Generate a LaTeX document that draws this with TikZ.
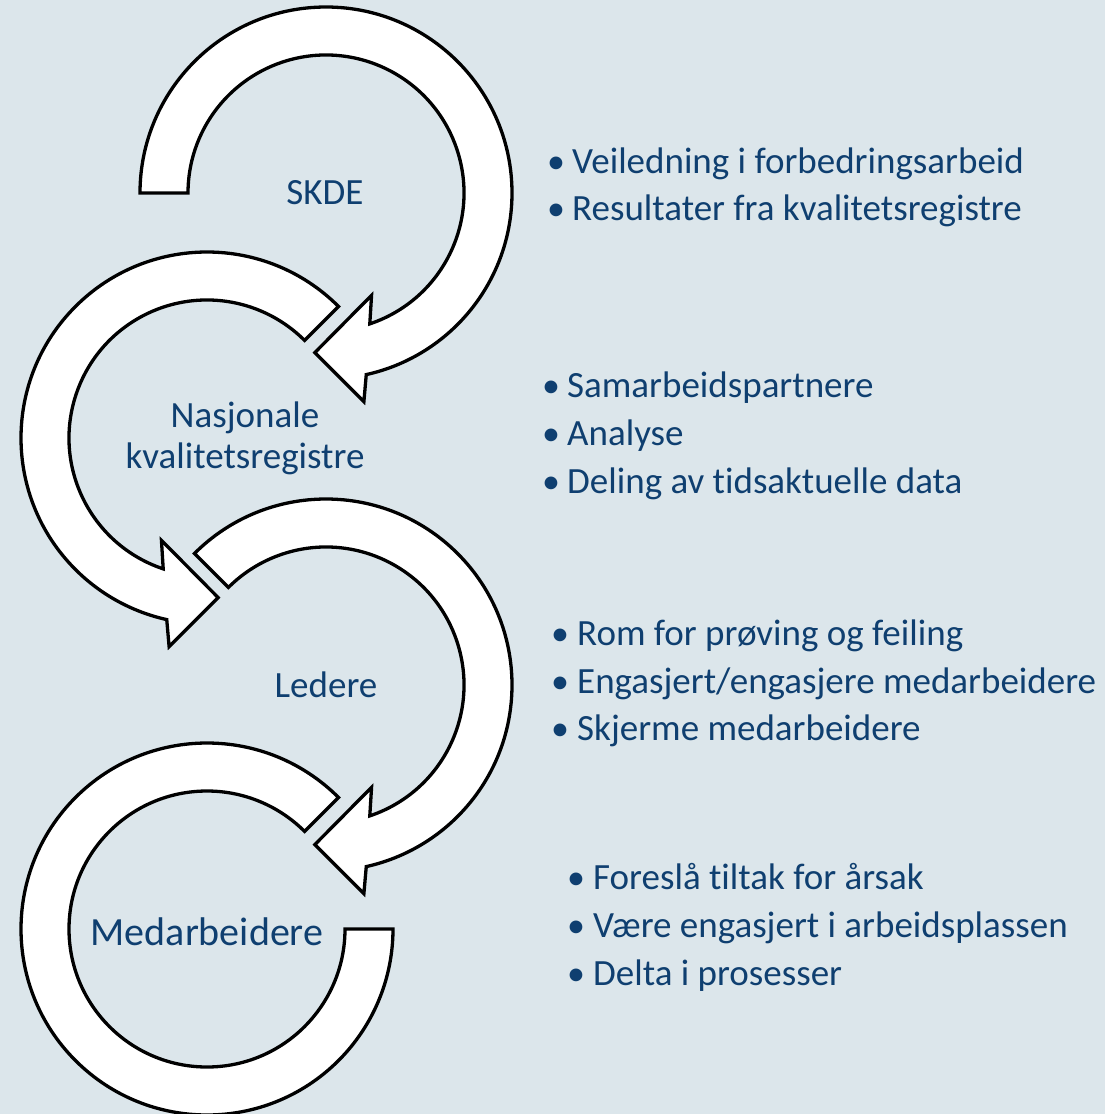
\documentclass[tikz,border=0pt]{standalone}
\usepackage{fontspec}
\setmainfont{Carlito}[Ligatures={NoCommon}]
\usetikzlibrary{calc}
\definecolor{bgc}{HTML}{DCE6EB}
\definecolor{txt}{HTML}{0F3F70}
\tikzset{
  band/.style={draw=black, fill=white, line width=3.3pt, miter limit=10},
  lbl/.style={inner sep=0pt, anchor=base, text=txt, font=\fontsize{37}{44}\selectfont},
  bigl/.style={inner sep=0pt, anchor=base, text=txt, font=\fontsize{40}{48}\selectfont},
  item/.style={inner sep=0pt, anchor=base west, text=txt, font=\fontsize{37}{44}\selectfont},
  bul/.style={inner sep=0pt, anchor=base, text=txt, font=\fontsize{36}{43}\selectfont},
}
\begin{document}
\begin{tikzpicture}[x=1pt,y=1pt]
\useasboundingbox (0,0) rectangle (1105,-1114);
\clip (0,0) rectangle (1105,-1114);
\fill[bgc] (0,0) rectangle (1105,-1114);

\coordinate (C1) at (326,-193);
\coordinate (C2) at (207,-438);
\coordinate (C3) at (326,-685);
\coordinate (C4) at (207,-929);

% arrow 1 (clockwise, tail at left)
\path[band] ($(C1)+(180:186)$) arc[start angle=180,end angle=-77.5,radius=186]
  -- ($(C1)+(-79.7:212)$) -- ($(C1)+(-94:160)$) -- ($(C1)+(-66:112)$)
  -- ($(C1)+(-71.5:138)$) arc[start angle=-71.5,end angle=180,radius=138] -- cycle;

% arrow 2 (counterclockwise, tail upper right)
\path[band] ($(C2)+(45:186)$) arc[start angle=45,end angle=257.5,radius=186]
  -- ($(C2)+(259.7:212)$) -- ($(C2)+(274:160)$) -- ($(C2)+(246:112)$)
  -- ($(C2)+(251.5:138)$) arc[start angle=251.5,end angle=45,radius=138] -- cycle;

% arrow 3 (clockwise, tail upper left)
\path[band] ($(C3)+(135:186)$) arc[start angle=135,end angle=-77.5,radius=186]
  -- ($(C3)+(-79.7:212)$) -- ($(C3)+(-94:160)$) -- ($(C3)+(-66:112)$)
  -- ($(C3)+(-71.5:138)$) arc[start angle=-71.5,end angle=135,radius=138] -- cycle;

% arrow 4 (counterclockwise band, no head)
\path[band] ($(C4)+(45:186)$) arc[start angle=45,end angle=360,radius=186]
  -- ($(C4)+(0:138)$) arc[start angle=360,end angle=45,radius=138] -- cycle;

% labels
\node[lbl] (skde) at (325,-204) {SKDE};
\node[lbl] (nas1) at (245,-427) {Nasjonale};
\node[lbl] (nas2) at (245,-468) {kvalitetsregistre};
\node[lbl] (led) at (326,-697) {Ledere};
\node[bigl] (med) at (207,-945) {Medarbeidere};

% list 1
\node[bul] (b11) at (556,-173) {•};
\node[item] (t11) at (572,-173) {Veiledning i forbedringsarbeid};
\node[bul] (b12) at (556,-220) {•};
\node[item] (t12) at (572,-220) {Resultater fra kvalitetsregistre};

% list 2
\node[bul] (b21) at (551,-397) {•};
\node[item] (t21) at (567,-397) {Samarbeidspartnere};
\node[bul] (b22) at (551,-445) {•};
\node[item] (t22) at (567,-445) {Analyse};
\node[bul] (b23) at (551,-493) {•};
\node[item] (t23) at (567,-493) {Deling av tidsaktuelle data};

% list 3
\node[bul] (b31) at (560,-645) {•};
\node[item] (t31) at (577,-645) {Rom for prøving og feiling};
\node[bul] (b32) at (560,-693) {•};
\node[item] (t32) at (577,-693) {Engasjert/engasjere medarbeidere};
\node[bul] (b33) at (560,-740) {•};
\node[item] (t33) at (577,-740) {Skjerme medarbeidere};

% list 4
\node[bul] (b41) at (576,-889) {•};
\node[item] (t41) at (593,-889) {Foreslå tiltak for årsak};
\node[bul] (b42) at (576,-937) {•};
\node[item] (t42) at (593,-937) {Være engasjert i arbeidsplassen};
\node[bul] (b43) at (576,-985) {•};
\node[item] (t43) at (593,-985) {Delta i prosesser};
\end{tikzpicture}
\end{document}
